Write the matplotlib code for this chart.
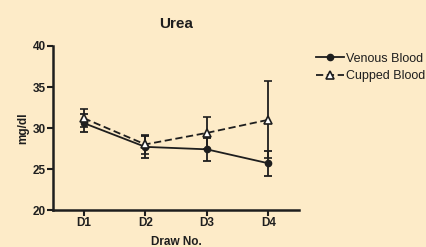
import numpy as np
import matplotlib
matplotlib.use("Agg")
import matplotlib.pyplot as plt

# data
draws = ["D1", "D2", "D3", "D4"]
venous = [30.6, 27.7, 27.4, 25.7]
venous_err = [1.1, 1.3, 1.4, 1.5]
cupped = [31.2, 28.0, 29.4, 31.0]
cupped_err = [1.1, 1.2, 2.0, 4.7]

bg = "#FDEBC8"
ink = "#1e1e1e"
plt.rcParams["font.family"] = ["Liberation Sans", "DejaVu Sans"]

fig = plt.figure(figsize=(4.26, 2.47), dpi=100, facecolor=bg)
ax = fig.add_axes([53 / 426, 37 / 247, 246 / 426, 164 / 247], facecolor=bg)

x = np.arange(1, len(draws) + 1)
v = ax.errorbar(x, venous, yerr=venous_err, color=ink, lw=1.3, marker="o", ms=4.5,
                capsize=3, capthick=1.3, elinewidth=1.3)
c = ax.errorbar(x, cupped, yerr=cupped_err, color=ink, lw=1.3, ls=(0, (4, 2)), marker="^",
                ms=5.5, mfc="white", mec=ink, mew=1.2, capsize=3, capthick=1.3,
                elinewidth=1.3)

ax.set_xlim(0.5, 4.5)
ax.set_ylim(20, 40)
ax.set_xticks(x)
ax.set_xticklabels(draws)
ax.set_yticks([20, 25, 30, 35, 40])
for s in ["top", "right"]:
    ax.spines[s].set_visible(False)
for s in ["left", "bottom"]:
    ax.spines[s].set_linewidth(1.8)
    ax.spines[s].set_color(ink)
ax.tick_params(width=1.5, length=4, color=ink, labelcolor=ink, labelsize=8.5, pad=1)
for lab in ax.get_xticklabels() + ax.get_yticklabels():
    lab.set_fontweight("bold")

ax.set_title("Urea", fontsize=11, fontweight="bold", color=ink, pad=13)
ax.set_ylabel("mg/dl", fontsize=8.5, fontweight="bold", color=ink, labelpad=3)
ax.set_xlabel("Draw No.", fontsize=8.5, fontweight="bold", color=ink, labelpad=5)

leg = ax.legend([v[0], c[0]], ["Venous Blood", "Cupped Blood"], loc="upper left",
                bbox_to_anchor=(1.05, 0.99), frameon=False, fontsize=9,
                handlelength=2.2, handletextpad=0.2, labelspacing=0.45,
                borderaxespad=0)
for t in leg.get_texts():
    t.set_color(ink)

fig.savefig("out.png", dpi=100, facecolor=bg)
